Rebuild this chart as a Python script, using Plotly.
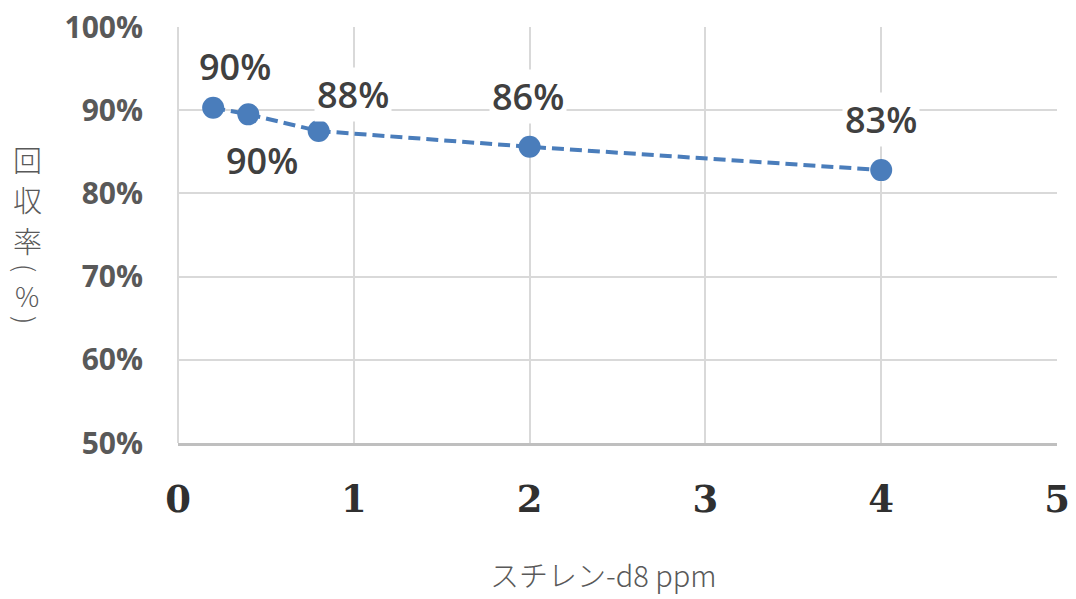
import plotly.graph_objects as go

# Data
conc_ppm = [0.2, 0.4, 0.8, 2, 4]
recovery_pct = [90.3, 89.5, 87.5, 85.6, 82.8]
label_text = ["90%", "90%", "88%", "86%", "83%"]
x_ticks = [0, 1, 2, 3, 4, 5]
y_ticks = [50, 60, 70, 80, 90, 100]
y_tick_text = ["50%", "60%", "70%", "80%", "90%", "100%"]
y_title_chars = ["回", "収", "率", "(", "%", ")"]

# Layout-only offsets for data labels (pixels)
label_xshift = [22, 14, 34, -2, 0]
label_yshift = [41, -46, 37, 50, 51]
# pixel y of each y-title char, rotation, size
y_title_pos = [159, 199, 240, 268, 295, 320]
y_title_rot = [0, 0, 0, 90, 0, 90]
y_title_size = [29, 29, 29, 26, 27, 26]

W, H = 1076, 599
L, R, T, B = 178, 19, 27, 156
plot_h = H - T - B
plot_w = W - L - R

blue = "#4a7dbb"
grid = "#d9d9d9"

fig = go.Figure()
fig.add_trace(go.Scatter(
    x=conc_ppm, y=recovery_pct, mode="lines+markers",
    line=dict(color=blue, width=4, dash="12px,6px"),
    marker=dict(color=blue, size=22, line=dict(width=0)),
    showlegend=False, hoverinfo="skip",
))

annotations = []
for x, y, t, dx, dy in zip(conc_ppm, recovery_pct, label_text, label_xshift, label_yshift):
    annotations.append(dict(
        x=x, y=y, xref="x", yref="y", text=t, showarrow=False,
        xshift=dx, yshift=dy, bgcolor="white",
        font=dict(family="Open Sans", size=36, color="#404040", weight=600),
        borderpad=2,
    ))

for ch, py, rot, sz in zip(y_title_chars, y_title_pos, y_title_rot, y_title_size):
    annotations.append(dict(
        x=(27 - L) / plot_w, y=1 - (py - T) / plot_h, xref="paper", yref="paper",
        xanchor="center", yanchor="middle", text=ch, showarrow=False,
        textangle=rot,
        font=dict(family="Noto Sans CJK JP", size=sz, color="#595959", weight=300),
    ))

annotations.append(dict(
    x=(603 - L) / plot_w, y=-(597 - (H - B)) / plot_h, xref="paper", yref="paper",
    xanchor="center", yanchor="bottom", text="スチレン-d8 ppm", showarrow=False,
    font=dict(family="Noto Sans CJK JP", size=29, color="#595959", weight=300),
))

fig.update_layout(
    width=W, height=H,
    margin=dict(l=L, r=R, t=T, b=B, autoexpand=False),
    paper_bgcolor="white", plot_bgcolor="white",
    annotations=annotations,
    xaxis=dict(
        range=[0, 5], tickvals=x_ticks, ticktext=[str(v) for v in x_ticks],
        showgrid=True, gridcolor=grid, gridwidth=2,
        zeroline=True, zerolinecolor=grid, zerolinewidth=2,
        showline=True, linecolor="#bfbfbf", linewidth=3,
        ticks="", ticklabelstandoff=22, automargin=False,
        tickfont=dict(family="DejaVu Serif", size=37, color="#303030", weight="bold"),
        fixedrange=True,
    ),
    yaxis=dict(
        range=[50, 100], tickvals=y_ticks, ticktext=y_tick_text,
        showgrid=True, gridcolor=grid, gridwidth=2,
        zeroline=False, showline=False,
        ticks="", ticklabelstandoff=34, automargin=False,
        tickfont=dict(family="Open Sans", size=30, color="#595959", weight="bold"),
        fixedrange=True,
    ),
)

fig.write_html("out.html")
